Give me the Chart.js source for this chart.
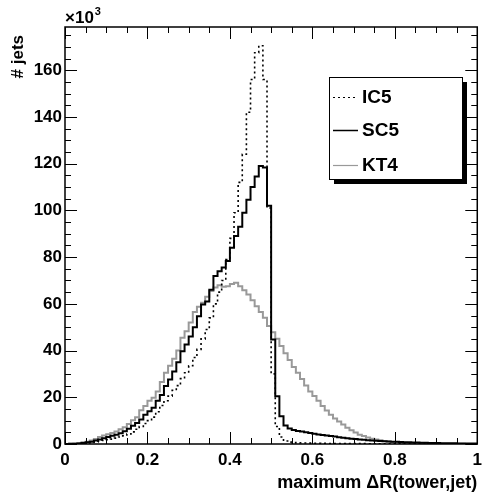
<!DOCTYPE html>
<html>
<head>
<meta charset="utf-8">
<script src="https://cdn.jsdelivr.net/npm/chart.js@4.4.1/dist/chart.umd.min.js"></script>
<style>
  html, body { margin: 0; padding: 0; background: #fff; }
  canvas { display: block; }
</style>
</head>
<body>
<canvas id="deltaRChart" width="488" height="499"></canvas>
<script>
// histogram of maximum dR(tower,jet), 100 bins from 0 to 1
const binLow = 0;
const binWidth = 0.01;

// entries per bin, in units of 10^3 jets
const ic5 = [
  0.02, 0.05, 0.1, 0.2, 0.3, 0.5, 0.7, 0.9, 1.2, 1.5,
  1.8, 2.1, 2.5, 3.0, 3.5, 4.3, 5.2, 6.3, 7.5, 8.8,
  10.0, 11.5, 13.8, 16.5, 18.5, 20.5, 23.0, 25.0, 28.0, 30.5,
  33.5, 37.0, 40.5, 45.0, 49.0, 54.0, 60.0, 65.0, 70.0, 79.0,
  88.0, 99.0, 112.0, 124.0, 142.0, 156.0, 167.5, 170.5, 156.0, 101.0,
  30.0, 7.5, 3.0, 1.3, 0.8, 0.6, 0.5, 0.45, 0.4, 0.36,
  0.33, 0.3, 0.28, 0.26, 0.24, 0.22, 0.2, 0.19, 0.18, 0.17,
  0.16, 0.15, 0.14, 0.13, 0.12, 0.11, 0.1, 0.1, 0.09, 0.09,
  0.08, 0.08, 0.07, 0.07, 0.06, 0.06, 0.05, 0.05, 0.05, 0.04,
  0.04, 0.04, 0.03, 0.03, 0.03, 0.03, 0.02, 0.02, 0.02, 0.02
];
const sc5 = [
  0.05, 0.1, 0.1, 0.2, 0.4, 0.7, 1.0, 1.5, 1.9, 2.5,
  3.0, 3.5, 4.0, 4.6, 5.5, 6.5, 7.8, 9.0, 10.5, 12.5,
  14.0, 15.5, 18.5, 21.0, 24.8, 27.6, 31.0, 35.0, 39.7, 42.6,
  46.0, 50.0, 54.7, 59.7, 61.0, 66.0, 71.9, 74.0, 75.6, 78.3,
  84.0, 89.0, 93.0, 99.0, 104.5, 110.0, 114.5, 119.0, 118.4, 102.0,
  44.7, 20.4, 11.9, 7.9, 6.6, 6.0, 5.6, 5.3, 5.0, 4.7,
  4.4, 4.1, 3.9, 3.6, 3.4, 3.2, 2.9, 2.7, 2.5, 2.3,
  2.1, 1.95, 1.8, 1.65, 1.5, 1.4, 1.3, 1.2, 1.1, 1.0,
  0.95, 0.88, 0.8, 0.74, 0.68, 0.62, 0.57, 0.52, 0.48, 0.44,
  0.4, 0.37, 0.34, 0.31, 0.28, 0.26, 0.24, 0.22, 0.2, 0.18
];
const kt4 = [
  0.05, 0.1, 0.2, 0.4, 0.7, 1.0, 1.5, 2.1, 3.0, 3.6,
  4.2, 4.7, 5.3, 6.3, 7.2, 8.6, 10.2, 11.5, 14.5, 16.3,
  18.5, 19.8, 22.5, 26.5, 30.5, 33.5, 36.5, 40.0, 45.5, 48.3,
  52.0, 56.5, 58.7, 60.5, 63.0, 65.5, 67.0, 68.0, 67.3, 67.5,
  68.5, 69.0, 67.5, 65.8, 64.0, 61.5, 59.0, 56.5, 54.0, 50.5,
  47.8, 45.0, 42.0, 38.8, 36.0, 33.0, 30.5, 27.8, 25.0, 22.5,
  20.5, 18.5, 16.3, 14.3, 12.5, 10.9, 9.6, 8.3, 7.0, 5.9,
  4.9, 4.0, 3.4, 2.8, 2.3, 1.9, 1.6, 1.3, 1.1, 0.9,
  0.75, 0.62, 0.52, 0.44, 0.37, 0.31, 0.26, 0.22, 0.19, 0.16,
  0.14, 0.12, 0.1, 0.09, 0.08, 0.07, 0.06, 0.05, 0.05, 0.04
];

const xTicks = [0, 0.2, 0.4, 0.6, 0.8, 1];
const yTicks = [0, 20, 40, 60, 80, 100, 120, 140, 160];
const xMinorStep = 0.05;
const yMinorStep = 5;
const yMax = 178.5;
const xTitle = 'maximum \u0394R(tower,jet)';
const yTitle = '# jets';
const yExponent = '3';

const FONT = '"Liberation Sans", Arial, Helvetica, sans-serif';

function histPoints(values) {
  const pts = values.map((v, i) => ({ x: binLow + i * binWidth, y: v }));
  pts.push({ x: binLow + values.length * binWidth, y: values[values.length - 1] });
  return pts;
}

// ROOT-like frame: inside ticks on all four sides, multiplier, y title, legend box
const rootFrame = {
  id: 'rootFrame',
  afterDraw(chart) {
    const { ctx, chartArea: a, scales: { x, y } } = chart;
    ctx.save();
    ctx.strokeStyle = '#000';
    ctx.lineWidth = 1;
    ctx.beginPath();
    const nx = Math.round((x.max - x.min) / xMinorStep);
    for (let i = 0; i <= nx; i++) {
      const v = x.min + i * xMinorStep;
      const px = Math.round(x.getPixelForValue(v)) + 0.5;
      const len = i % 4 === 0 ? 12 : 6;
      ctx.moveTo(px, a.bottom); ctx.lineTo(px, a.bottom - len);
      ctx.moveTo(px, a.top); ctx.lineTo(px, a.top + len);
    }
    for (let v = 0; v <= yMax; v += yMinorStep) {
      const py = Math.round(y.getPixelForValue(v)) + 0.5;
      const len = v % 20 === 0 ? 12 : 6;
      ctx.moveTo(a.left, py); ctx.lineTo(a.left + len, py);
      ctx.moveTo(a.right, py); ctx.lineTo(a.right - len, py);
    }
    ctx.stroke();

    ctx.lineWidth = 1.5;
    ctx.strokeRect(a.left, a.top, a.right - a.left, a.bottom - a.top);

    // x10^3 above the y axis
    ctx.fillStyle = '#000';
    ctx.textBaseline = 'alphabetic';
    ctx.textAlign = 'left';
    ctx.font = 'bold 17px ' + FONT;
    ctx.fillText('\u00d710', a.left, 23);
    const w = ctx.measureText('\u00d710').width;
    ctx.font = 'bold 11px ' + FONT;
    ctx.fillText(yExponent, a.left + w + 1, 15);

    // y title, rotated, against the top of the axis
    ctx.save();
    ctx.translate(23, 35);
    ctx.rotate(-Math.PI / 2);
    ctx.font = 'bold 17px ' + FONT;
    ctx.textAlign = 'right';
    ctx.fillText(yTitle, 0, 0);
    ctx.restore();

    // legend box with shadow
    const box = { l: 329, t: 77, r: 462, b: 179 };
    ctx.fillStyle = '#000';
    ctx.fillRect(box.l + 5, box.t + 5, box.r - box.l, box.b - box.t);
    ctx.fillStyle = '#fff';
    ctx.fillRect(box.l, box.t, box.r - box.l, box.b - box.t);
    ctx.lineWidth = 1;
    ctx.strokeStyle = '#000';
    ctx.strokeRect(box.l + 0.5, box.t + 0.5, box.r - box.l, box.b - box.t);

    const rows = [97, 130, 165];
    ctx.font = 'bold 19px ' + FONT;
    ctx.textBaseline = 'middle';
    ctx.textAlign = 'left';
    chart.data.datasets.forEach((ds, i) => {
      const ry = rows[i] + 0.5;
      ctx.save();
      ctx.strokeStyle = ds.borderColor;
      ctx.lineWidth = ds.legendWidth;
      ctx.setLineDash(ds.borderDash || []);
      ctx.beginPath();
      ctx.moveTo(333, ry);
      ctx.lineTo(358, ry);
      ctx.stroke();
      ctx.restore();
      ctx.fillStyle = '#000';
      ctx.fillText(ds.label, 362, rows[i] + 1);
    });
    ctx.restore();
  }
};

new Chart(document.getElementById('deltaRChart'), {
  type: 'line',
  data: {
    datasets: [
      {
        label: 'IC5',
        data: histPoints(ic5),
        borderColor: '#000',
        borderWidth: 1.6,
        borderDash: [2, 3],
        legendWidth: 1.2,
        stepped: true,
        pointRadius: 0,
        fill: false
      },
      {
        label: 'SC5',
        data: histPoints(sc5),
        borderColor: '#000',
        borderWidth: 2,
        legendWidth: 1.5,
        stepped: true,
        pointRadius: 0,
        fill: false
      },
      {
        label: 'KT4',
        data: histPoints(kt4),
        borderColor: '#999999',
        borderWidth: 2,
        legendWidth: 1.2,
        stepped: true,
        pointRadius: 0,
        fill: false
      }
    ]
  },
  options: {
    responsive: false,
    animation: false,
    devicePixelRatio: 1,
    layout: { padding: { left: 0, top: 27, right: 4, bottom: 0 } },
    plugins: {
      legend: { display: false },
      tooltip: { enabled: false }
    },
    scales: {
      x: {
        type: 'linear',
        min: 0,
        max: 1,
        afterFit: (s) => { s.height = 55; },
        afterBuildTicks: (s) => { s.ticks = xTicks.map(v => ({ value: v })); },
        grid: { display: false, drawTicks: false },
        border: { display: false },
        ticks: {
          autoSkip: false,
          maxRotation: 0,
          padding: 6,
          color: '#000',
          font: { family: FONT, size: 17, weight: 'bold' },
          callback: (v) => String(v)
        },
        title: {
          display: true,
          text: xTitle,
          align: 'end',
          color: '#000',
          font: { family: FONT, size: 18, weight: 'bold' },
          padding: { top: 0, bottom: 5 }
        }
      },
      y: {
        type: 'linear',
        min: 0,
        max: yMax,
        afterFit: (s) => { s.width = 65; },
        afterBuildTicks: (s) => { s.ticks = yTicks.map(v => ({ value: v })); },
        grid: { display: false, drawTicks: false },
        border: { display: false },
        ticks: {
          padding: 3,
          color: '#000',
          font: { family: FONT, size: 17, weight: 'bold' },
          callback: (v) => String(v)
        }
      }
    }
  },
  plugins: [rootFrame]
});
</script>
</body>
</html>
